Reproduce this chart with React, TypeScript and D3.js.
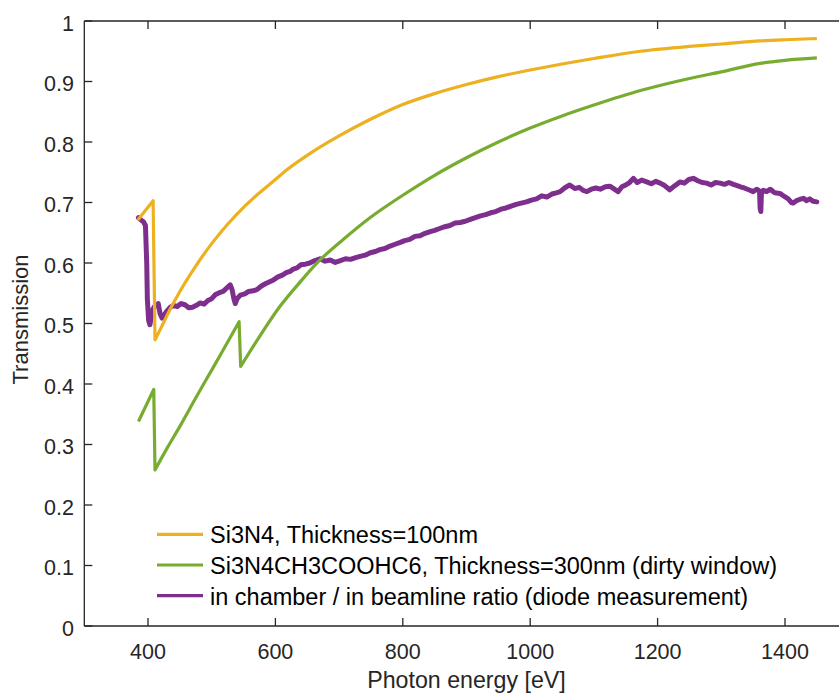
import React, { useEffect, useRef } from "react";
import * as d3 from "d3";

// values (eV, transmission)
// the film curves are split at their absorption edges
const si3n4Pre: [number, number][] = [[384, 0.671], [408, 0.703]];
const si3n4Post: [number, number][] = [
  [411, 0.473], [420, 0.492], [437, 0.528], [450, 0.553],
  [475, 0.595], [500, 0.632], [525, 0.664], [550, 0.692], [575, 0.716], [600, 0.738],
  [618, 0.754], [650, 0.778], [700, 0.81], [750, 0.838], [800, 0.862], [850, 0.88],
  [900, 0.895], [950, 0.908], [1000, 0.919], [1050, 0.929], [1100, 0.938], [1173, 0.95],
  [1250, 0.958], [1300, 0.962], [1361, 0.967], [1400, 0.969], [1450, 0.971]
];

const dirtyPre: [number, number][] = [[385, 0.338], [409, 0.391]];
const dirtyMid: [number, number][] = [
  [411, 0.258], [430, 0.294], [450, 0.33], [476, 0.379], [500, 0.423], [520, 0.46], [543, 0.503]
];
const dirtyPost: [number, number][] = [
  [545.5, 0.429], [570, 0.47], [607, 0.528],
  [640, 0.57], [670, 0.605], [700, 0.633], [750, 0.676], [800, 0.712], [850, 0.745],
  [900, 0.774], [950, 0.8], [1000, 0.823], [1050, 0.843], [1100, 0.861], [1173, 0.885],
  [1250, 0.905], [1300, 0.916], [1361, 0.93], [1400, 0.935], [1450, 0.939]
];

const diode: [number, number][] = [
  [385, 0.675], [389, 0.671], [393, 0.668], [396, 0.662], [398, 0.6], [399, 0.54], [401, 0.505],
  [403, 0.498], [405, 0.51], [407, 0.522], [410, 0.528], [413, 0.53], [416, 0.533], [419, 0.516],
  [422, 0.509], [426, 0.515], [430, 0.521], [435, 0.527], [440, 0.53], [446, 0.528], [452, 0.533],
  [458, 0.531], [464, 0.526], [470, 0.527], [476, 0.53], [482, 0.534], [488, 0.532], [494, 0.538],
  [500, 0.541], [506, 0.548], [512, 0.551], [518, 0.553], [524, 0.559], [529, 0.564], [532, 0.556],
  [535, 0.54], [537, 0.533], [540, 0.541], [545, 0.547], [552, 0.549], [558, 0.553], [565, 0.554],
  [571, 0.556], [578, 0.562], [585, 0.566], [591, 0.569], [597, 0.572], [604, 0.577], [611, 0.58],
  [617, 0.584], [623, 0.586], [628, 0.59], [634, 0.592], [640, 0.597], [647, 0.598], [654, 0.6],
  [662, 0.604], [670, 0.607], [678, 0.603], [686, 0.605], [694, 0.601], [702, 0.604], [710, 0.607],
  [718, 0.606], [726, 0.609], [733, 0.611], [741, 0.613], [749, 0.617], [757, 0.619], [764, 0.622],
  [772, 0.624], [780, 0.628], [788, 0.631], [796, 0.634], [803, 0.637], [811, 0.639], [819, 0.644],
  [827, 0.645], [835, 0.649], [843, 0.652], [850, 0.654], [858, 0.657], [866, 0.66], [874, 0.662],
  [882, 0.666], [890, 0.667], [898, 0.669], [906, 0.672], [914, 0.675], [922, 0.678], [930, 0.68],
  [938, 0.683], [946, 0.685], [954, 0.689], [962, 0.691], [970, 0.694], [978, 0.697], [986, 0.699],
  [994, 0.701], [1002, 0.704], [1010, 0.706], [1018, 0.711], [1026, 0.709], [1034, 0.714],
  [1041, 0.716], [1047, 0.718], [1054, 0.724], [1062, 0.729], [1070, 0.723], [1077, 0.725],
  [1083, 0.72], [1089, 0.718], [1096, 0.722], [1103, 0.724], [1110, 0.722], [1118, 0.726],
  [1125, 0.727], [1131, 0.723], [1138, 0.718], [1144, 0.726], [1150, 0.729], [1156, 0.733],
  [1162, 0.74], [1168, 0.733], [1175, 0.737], [1183, 0.734], [1190, 0.731], [1197, 0.735],
  [1204, 0.732], [1211, 0.728], [1219, 0.721], [1226, 0.727], [1235, 0.734], [1242, 0.732],
  [1249, 0.738], [1256, 0.74], [1263, 0.736], [1270, 0.733], [1277, 0.732], [1284, 0.729],
  [1291, 0.733], [1298, 0.732], [1305, 0.73], [1312, 0.733], [1319, 0.73], [1325, 0.728],
  [1330, 0.726], [1336, 0.724], [1343, 0.721], [1350, 0.718], [1356, 0.722], [1360, 0.719],
  [1361, 0.69], [1362, 0.685], [1363, 0.715], [1366, 0.72], [1371, 0.718], [1377, 0.722],
  [1384, 0.716], [1392, 0.715], [1399, 0.71], [1405, 0.706], [1410, 0.7], [1413, 0.699],
  [1418, 0.703], [1423, 0.705], [1429, 0.707], [1434, 0.703], [1439, 0.706], [1444, 0.702],
  [1450, 0.701]
];

const xTicks = [400, 600, 800, 1000, 1200, 1400];
const yTicks = [0, 0.1, 0.2, 0.3, 0.4, 0.5, 0.6, 0.7, 0.8, 0.9, 1];
const legendLabels = [
  "Si3N4, Thickness=100nm",
  "Si3N4CH3COOHC6, Thickness=300nm (dirty window)",
  "in chamber / in beamline ratio (diode measurement)"
];
const colors = ["#EDB120", "#77AC30", "#7E2F8E"];

export default function App() {
  const ref = useRef<SVGSVGElement>(null);

  useEffect(() => {
    const svg = d3.select(ref.current);
    svg.selectAll("*").remove();

    const left = 84.3, right = 848.7, top = 21, bottom = 626;
    const axisColor = "#262626";
    const font = "'Liberation Sans', Arial, sans-serif";

    const x = d3.scaleLinear().domain([300, 1500]).range([left, right]);
    const y = d3.scaleLinear().domain([0, 1]).range([bottom, top]);

    svg.append("defs").append("clipPath").attr("id", "plotclip")
      .append("rect").attr("x", left).attr("y", top)
      .attr("width", right - left).attr("height", bottom - top);

    const plot = svg.append("g").attr("clip-path", "url(#plotclip)");

    const smooth = d3.line<[number, number]>()
      .x(d => x(d[0])).y(d => y(d[1]))
      .curve(d3.curveMonotoneX);
    const raw = d3.line<[number, number]>()
      .x(d => x(d[0])).y(d => y(d[1]));

    plot.append("path").datum(diode)
      .attr("d", raw)
      .attr("fill", "none")
      .attr("stroke", colors[2])
      .attr("stroke-width", 5)
      .attr("stroke-linejoin", "round")
      .attr("stroke-linecap", "round");

    // join edge pieces: smooth inside a piece, straight across each edge
    const edgePath = (pieces: [number, number][][]) => {
      let d = "";
      pieces.forEach((p, i) => {
        const s = smooth(p) || "";
        d += i === 0 ? s : "L" + s.slice(1);
      });
      return d;
    };

    plot.append("path")
      .attr("d", edgePath([si3n4Pre, si3n4Post]))
      .attr("fill", "none")
      .attr("stroke", colors[0])
      .attr("stroke-width", 3.2)
      .attr("stroke-linejoin", "round");

    plot.append("path")
      .attr("d", edgePath([dirtyPre, dirtyMid, dirtyPost]))
      .attr("fill", "none")
      .attr("stroke", colors[1])
      .attr("stroke-width", 3.2)
      .attr("stroke-linejoin", "round");

    // box
    const g = svg.append("g").attr("stroke", axisColor).attr("stroke-width", 1.3);
    g.append("line").attr("x1", left).attr("x2", right).attr("y1", bottom).attr("y2", bottom);
    g.append("line").attr("x1", left).attr("x2", right).attr("y1", top).attr("y2", top);
    g.append("line").attr("x1", left).attr("x2", left).attr("y1", top).attr("y2", bottom);
    g.append("line").attr("x1", right).attr("x2", right).attr("y1", top).attr("y2", bottom);

    xTicks.forEach(t => {
      g.append("line").attr("x1", x(t)).attr("x2", x(t)).attr("y1", bottom).attr("y2", bottom - 8);
      g.append("line").attr("x1", x(t)).attr("x2", x(t)).attr("y1", top).attr("y2", top + 8);
    });
    yTicks.forEach(t => {
      g.append("line").attr("x1", left).attr("x2", left + 8).attr("y1", y(t)).attr("y2", y(t));
      g.append("line").attr("x1", right).attr("x2", right - 8).attr("y1", y(t)).attr("y2", y(t));
    });

    const labels = svg.append("g")
      .attr("font-family", font)
      .attr("fill", axisColor)
      .attr("font-size", 21.5);

    labels.selectAll(".xt").data(xTicks).enter().append("text")
      .attr("x", d => x(d)).attr("y", 659)
      .attr("text-anchor", "middle")
      .text(d => String(d));

    labels.selectAll(".yt").data(yTicks).enter().append("text")
      .attr("x", 74).attr("y", d => y(d) + 9.5)
      .attr("text-anchor", "end")
      .text(d => d3.format("~g")(d));

    svg.append("text")
      .attr("x", (left + right) / 2).attr("y", 688)
      .attr("text-anchor", "middle")
      .attr("font-family", font).attr("font-size", 23.2)
      .attr("fill", axisColor)
      .text("Photon energy [eV]");

    svg.append("text")
      .attr("transform", `translate(28,${(top + bottom) / 2 - 4}) rotate(-90)`)
      .attr("text-anchor", "middle")
      .attr("font-family", font).attr("font-size", 22)
      .attr("fill", axisColor)
      .text("Transmission");

    // legend, no box
    const legend = svg.append("g");
    legendLabels.forEach((lab, i) => {
      const ly = 534.3 + i * 30.7;
      legend.append("line")
        .attr("x1", 157).attr("x2", 203).attr("y1", ly).attr("y2", ly)
        .attr("stroke", colors[i]).attr("stroke-width", 3.2);
      legend.append("text")
        .attr("x", 210).attr("y", ly + 8.8)
        .attr("font-family", font).attr("font-size", 23.5)
        .attr("fill", "#000")
        .text(lab);
    });
  }, []);

  return (
    <div style={{ position: "absolute", left: 0, top: 0 }}>
      <svg ref={ref} width={839} height={696} style={{ display: "block", background: "#fff" }} />
    </div>
  );
}
